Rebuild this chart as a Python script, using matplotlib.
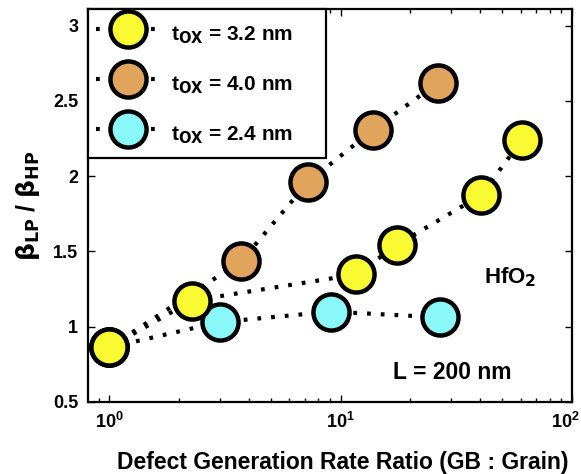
import numpy as np
import matplotlib.pyplot as plt
import matplotlib.transforms as mtransforms
from matplotlib.ticker import FixedLocator, FixedFormatter, LogLocator, NullFormatter

plt.rcParams['font.family'] = ['Liberation Sans', 'DejaVu Sans']
plt.rcParams['font.weight'] = 'bold'
plt.rcParams['mathtext.default'] = 'bf'

# data
x32 = [1.0, 2.28, 11.7, 17.6, 40.4, 60.8]
y32 = [0.862, 1.173, 1.347, 1.545, 1.873, 2.24]

x40 = [1.0, 3.72, 7.25, 13.8, 26.3]
y40 = [0.862, 1.435, 1.962, 2.307, 2.62]

x24 = [1.0, 3.0, 9.05, 26.9]
y24 = [0.862, 1.03, 1.10, 1.062]

yticks = [0.5, 1, 1.5, 2, 2.5, 3]
ytick_labels = ['0.5', '1', '1.5', '2', '2.5', '3']

fig = plt.figure(figsize=(5.81, 4.74), dpi=100)
ax = fig.add_axes([0.1515, 0.152, 0.833, 0.829])

dots = (0, (0.9, 2.4))
mk = dict(marker='o', markersize=26, markeredgecolor='black', markeredgewidth=3.2,
          color='black', linestyle=dots, linewidth=3, dash_capstyle='butt')

ax.plot(x32, y32, label='t$_{OX}$ = 3.2 nm     ', markerfacecolor='#fafa32', zorder=3, **mk)
ax.plot(x40, y40, label='t$_{OX}$ = 4.0 nm     ', markerfacecolor='#e0a45c', zorder=2, **mk)
ax.plot(x24, y24, label='t$_{OX}$ = 2.4 nm     ', markerfacecolor='#8af8f8', zorder=2.5, **mk)

ax.set_xscale('log')
ax.set_xlim(0.81, 100)
ax.set_ylim(0.5, 3.11)
ax.yaxis.set_major_locator(FixedLocator(yticks))
ax.yaxis.set_major_formatter(FixedFormatter(ytick_labels))
ax.xaxis.set_minor_locator(LogLocator(base=10, subs=np.arange(2, 10)))
ax.xaxis.set_minor_formatter(NullFormatter())

ax.tick_params(which='both', direction='in', top=True, right=True, labelsize=13, width=1)
ax.tick_params(which='major', length=5, pad=7)
ax.tick_params(which='minor', length=3)
for s in ax.spines.values():
    s.set_linewidth(1.6)

# keep the 10^2 label inside the figure
fig.canvas.draw()
for t in ax.get_xticklabels():
    if t.get_text() and t.get_position()[0] > 50:
        t.set_horizontalalignment('right')
        t.set_transform(t.get_transform() + mtransforms.ScaledTranslation(8 / 100, 0, fig.dpi_scale_trans))

ax.set_xlabel('Defect Generation Rate Ratio (GB : Grain)', fontsize=16.5, fontweight='bold')
ax.xaxis.set_label_coords(0.527, -0.125)
ax.set_ylabel(r'$\beta_{LP}$ / $\beta_{HP}$', fontsize=18, fontweight='bold', labelpad=8)

ax.text(41.6, 1.29, 'HfO$_2$', fontsize=16, fontweight='bold', va='baseline')
ax.text(16.9, 0.653, 'L = 200 nm', fontsize=16.5, fontweight='bold', va='baseline')

leg = ax.legend(loc='upper left', borderaxespad=0, fancybox=False, framealpha=1,
                edgecolor='black', fontsize=15, handlelength=3.0, handleheight=2.0,
                labelspacing=0.86, borderpad=0.4, handletextpad=0.6)
leg.get_frame().set_linewidth(1.6)

fig.savefig('out.png', dpi=100)
